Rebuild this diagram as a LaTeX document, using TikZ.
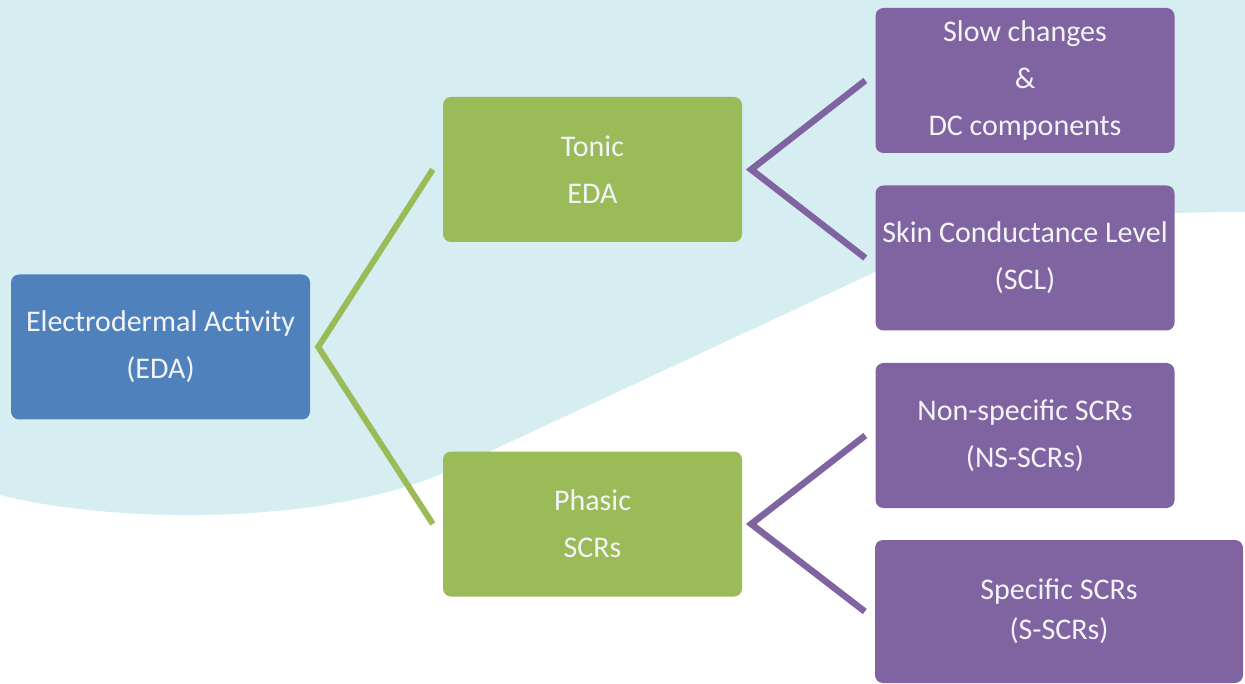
\documentclass[tikz,border=0pt]{standalone}
\usepackage{fontspec}
\setmainfont{Carlito}
\definecolor{bgblue}{HTML}{D6EEF2}
\definecolor{edablue}{HTML}{4F81BD}
\definecolor{tgreen}{HTML}{9BBB59}
\definecolor{tpurple}{HTML}{8064A2}
\definecolor{boxtext}{HTML}{F4F4F8}
\begin{document}
\begin{tikzpicture}[x=1pt,y=-1pt,
  box/.style={rounded corners=8pt, minimum width=299pt, minimum height=145pt,
    text=boxtext, align=center, inner sep=0pt,
    font=\fontsize{30}{47}\selectfont},
  greenline/.style={draw=tgreen, line width=6pt},
  purpleline/.style={draw=tpurple, line width=6.5pt}]
\useasboundingbox (0,0) rectangle (1245,684);
\fill[bgblue] (0,0) -- (1245,0) -- (1245,212)
  .. controls (1100,212) and (980,225) .. (873,273)
  -- (450,470)
  .. controls (330,525) and (120,525) .. (0,495) -- cycle;
\node[box, fill=edablue] (eda) at (160.5,347) {Electrodermal Activity\\(EDA)};
\node[box, fill=tgreen] (tonic) at (592.5,169.5) {Tonic\\EDA};
\node[box, fill=tgreen] (phasic) at (592.5,524) {Phasic\\SCRs};
\node[box, fill=tpurple] (slow) at (1025,80.5) {Slow changes\\\&\\DC components};
\node[box, fill=tpurple] (scl) at (1025,258) {Skin Conductance Level\\(SCL)};
\node[box, fill=tpurple] (ns) at (1025,435.5) {Non-specific SCRs\\(NS-SCRs)};
\node[box, fill=tpurple, minimum width=368pt, minimum height=143pt,
  font=\fontsize{30}{40}\selectfont] (ss) at (1059,611.5) {Specific SCRs\\(S-SCRs)};
\draw[greenline] ([xshift=-10pt]tonic.west) -- ([xshift=8pt]eda.east) -- ([xshift=-10pt]phasic.west);
\draw[purpleline] ([xshift=-10pt]slow.west) -- ([xshift=9pt]tonic.east) -- ([xshift=-10pt]scl.west);
\draw[purpleline] ([xshift=-10pt]ns.west) -- ([xshift=9pt]phasic.east) -- ([xshift=-10pt]ss.west);
\end{tikzpicture}
\end{document}
